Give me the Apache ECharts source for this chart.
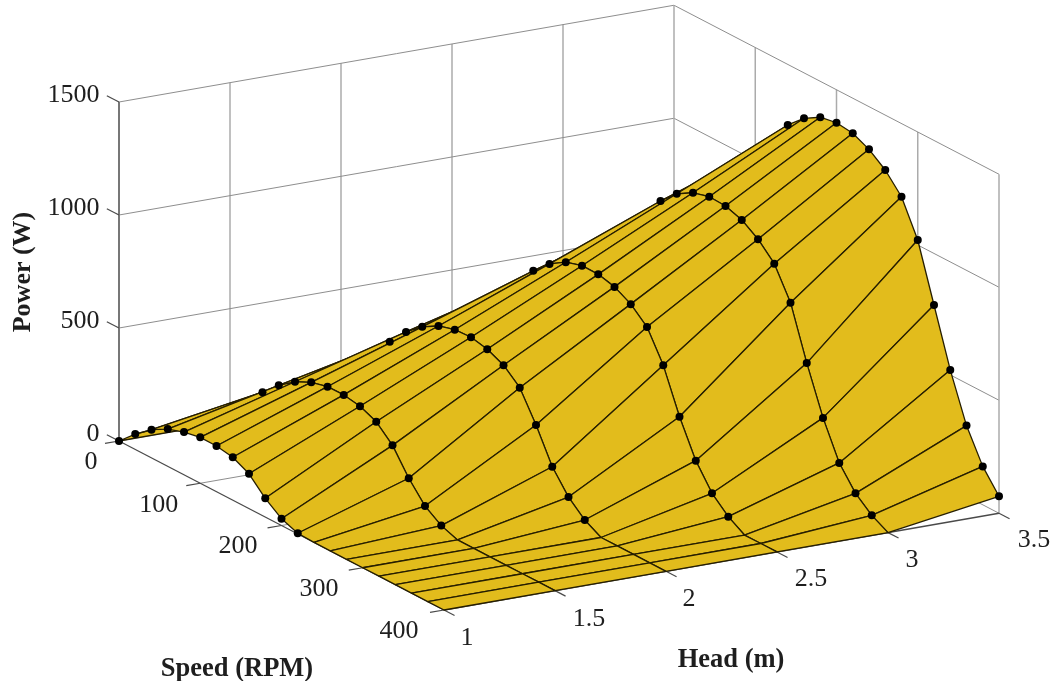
<!DOCTYPE html>
<html><head><meta charset="utf-8">
<style>html,body{margin:0;padding:0;background:#fff}#c{width:1057px;height:681px}</style>
<script src="https://cdn.jsdelivr.net/npm/echarts@6/dist/echarts.min.js"></script>
</head><body><div id="c"></div>
<script>
// --- values ---
const heads = [1, 1.5, 2, 2.5, 3, 3.5];
const speeds = [0,20,40,60,80,100,120,140,160,180,200,220,240,260,280,300,320,340,360,380,400];
const powerH10 = [0,68,125,165,189,203,202,190,154,83,30,3,0,0,0,0,0,0,0,0,0];
const powerH15 = [0,110,205,273,326,361,379,380,367,336,269,161,75,26,0,0,0,0,0,0,0];
const powerH20 = [0,150,280,380,461,521,562,583,587,571,538,476,348,201,104,40,0,0,0,0,0];
const powerH25 = [0,190,360,500,590,683,751,796,818,817,799,760,696,564,374,217,110,44,0,0,0];
const powerH30 = [0,225,430,600,735,830,944,1013,1055,1075,1071,1047,999,928,793,563,358,196,99,39,0];
const powerH35 = [0,260,490,690,860,1000,1115,1232,1299,1341,1354,1345,1311,1257,1176,1022,772,522,313,170,75];
const power = [powerH10, powerH15, powerH20, powerH25, powerH30, powerH35];
const headTicks = [1, 1.5, 2, 2.5, 3, 3.5];
const speedTicks = [0, 100, 200, 300, 400];
const powerTicks = [0, 500, 1000, 1500];
const headTitle = 'Head (m)', speedTitle = 'Speed (RPM)', powerTitle = 'Power (W)';

// --- orthographic view of the 3-D box ---
const ORIGIN = [119, 441], PER_HEAD = [222, -38.7], PER_RPM = [0.8125, 0.4225], PER_WATT = [0, -0.226];
function project(h, s, z) {
  return [ORIGIN[0] + PER_HEAD[0]*(h-1) + PER_RPM[0]*s + PER_WATT[0]*z,
          ORIGIN[1] + PER_HEAD[1]*(h-1) + PER_RPM[1]*s + PER_WATT[1]*z];
}
const H0 = heads[0], H1 = heads[heads.length-1], S0 = speeds[0], S1 = speeds[speeds.length-1], Z0 = powerTicks[0], Z1 = powerTicks[powerTicks.length-1];

const GRIDV = '#ababab', GRIDS = '#8e8e8e', AXIS = '#4a4a4a', EDGE = '#261e00', FILL = '#e2bc1c', TXT = '#1e1e1e', FONT = '"Liberation Serif", serif';
const items = [];
function seg(a, b, color, w) { items.push({k:'l', a, b, color, w}); }
function lab(p, text, size, weight, rot, align) { items.push({k:'t', p, text, size, weight, rot, align:align||'center'}); }

// walls and floor
heads.forEach(h => { if (h>H0 && h<H1) { seg([h,S0,Z0],[h,S0,Z1],GRIDV,1.5); seg([h,S0,Z0],[h,S1,Z0],GRIDS,1); } });
speedTicks.forEach(s => { if (s>S0 && s<S1) { seg([H1,s,Z0],[H1,s,Z1],GRIDV,1.5); seg([H0,s,Z0],[H1,s,Z0],GRIDS,1);} });
powerTicks.forEach(z => { if (z>Z0) { seg([H0,S0,z],[H1,S0,z],GRIDS,1); seg([H1,S0,z],[H1,S1,z],GRIDS,1);} });
seg([H1,S0,Z0],[H1,S0,Z1],GRIDV,1.5);
seg([H1,S1,Z0],[H1,S1,Z1],GRIDV,1.5);
seg([H1,S0,Z0],[H1,S1,Z0],GRIDS,1);
seg([H0,S0,Z0],[H1,S0,Z0],GRIDS,1);
// axis lines and ticks
seg([H0,S0,Z0],[H0,S0,Z1],'#777777',2);
seg([H0,S0,Z0],[H0,S1,Z0],AXIS,1.3);
seg([H0,S1,Z0],[H1,S1,Z0],AXIS,1.3);
headTicks.forEach(h => seg([h,S1,Z0],[h,S1+13,Z0],AXIS,1.2));
speedTicks.forEach(s => seg([H0,s,Z0],[H0-0.063,s,Z0],AXIS,1.2));
powerTicks.forEach(z => seg([H0,S0,z],[H0,S0-15,z],AXIS,1.2));

// surface, far cells first; a dot on a back-facing part is covered by what comes later
const onTop = [];
function area(j, i) {
  const p = [project(heads[j],speeds[i],power[j][i]), project(heads[j+1],speeds[i],power[j+1][i]),
             project(heads[j+1],speeds[i+1],power[j+1][i+1]), project(heads[j],speeds[i+1],power[j][i+1])];
  let a = 0; p.forEach((q,n)=>{const r=p[(n+1)%4]; a += q[0]*r[1]-r[0]*q[1];});
  return a;
}
for (let j = heads.length-2; j >= 0; j--) {
  for (let i = 0; i < speeds.length; i++) {
    if (!(power[j+1][i] > 0)) continue;
    const cell = area(j, Math.min(i, speeds.length-2));
    if (cell > 0) onTop.push({k:'d', j:j+1, i}); else items.push({k:'d', j:j+1, i});
  }
  for (let i = 0; i < speeds.length-1; i++) items.push({k:'f', j, i});
}
power[0].forEach((z,i)=>{ if (z>0 || i===0) onTop.push({k:'d', j:0, i}); });
onTop.forEach(o=>items.push(o));

// labels
const speedLabelOffsets = [[-28,21],[-41.6,21.8],[-43.5,21],[-43.7,21.5],[-45,21]];
const headLabelOffsets = [[23,28],[34,28.5],[23,27.7],[34,27],[24,27.4],[35,27]];
powerTicks.forEach(z => { const p = project(H0,S0,z); lab([99.5,p[1]-7], String(z), 26, 'normal', 0, 'right'); });
speedTicks.forEach((s,n) => { const p = project(H0,s,Z0), o = speedLabelOffsets[n]; lab([p[0]+o[0],p[1]+o[1]], String(s), 26, 'normal', 0); });
headTicks.forEach((h,n) => { const p = project(h,S1,Z0), o = headLabelOffsets[n]; lab([p[0]+o[0],p[1]+o[1]], String(h), 26, 'normal', 0); });
lab([23,272], powerTitle, 26, 'bold', Math.PI/2);
lab([237,669], speedTitle, 26.5, 'bold', 0);
lab([731,660], headTitle, 26.5, 'bold', 0);

function renderItem(params, api) {
  const it = items[api.value(0)], c = a => api.coord(project(a[0],a[1],a[2]));
  const z2 = params.dataIndex;
  if (it.k === 'l') {
    const a = c(it.a), b = c(it.b);
    return {type:'line', z2, shape:{x1:a[0],y1:a[1],x2:b[0],y2:b[1]}, style:{stroke:it.color, lineWidth:it.w}};
  }
  if (it.k === 'f') {
    const {j,i} = it;
    const pts = [[j,i],[j+1,i],[j+1,i+1],[j,i+1]].map(q => c([heads[q[0]],speeds[q[1]],power[q[0]][q[1]]]));
    return {type:'polygon', z2, shape:{points:pts}, style:{fill:FILL, stroke:EDGE, lineWidth:1.3, lineJoin:'round'}};
  }
  if (it.k === 'd') {
    const p = c([heads[it.j],speeds[it.i],power[it.j][it.i]]);
    return {type:'circle', z2, shape:{cx:p[0],cy:p[1],r:4}, style:{fill:'#000'}};
  }
  const p = api.coord(it.p);
  return {type:'text', z2, x:p[0], y:p[1], rotation:it.rot,
    style:{text:it.text, fill:TXT, font:`${it.weight} ${it.size}px ${FONT}`, align:it.align, verticalAlign:'middle'}};
}

const chart = echarts.init(document.getElementById('c'), null, {renderer:'canvas'});
chart.setOption({
  animation:false,
  backgroundColor:'#fff',
  grid:{left:0,right:0,top:0,bottom:0},
  xAxis:{type:'value',min:0,max:1057,show:false},
  yAxis:{type:'value',min:0,max:681,inverse:true,show:false},
  series:[{type:'custom',clip:false,silent:true,progressive:0,renderItem,
    encode:{x:1,y:2},
    data:items.map((_,n)=>[n,0,0])}]
});
</script></body></html>
